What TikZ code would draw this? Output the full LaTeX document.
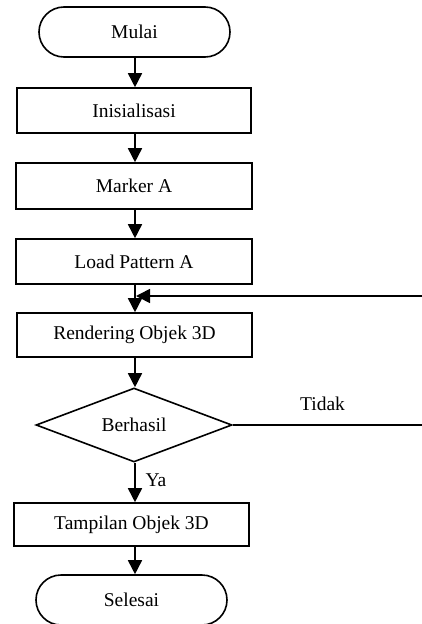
\documentclass[tikz,border=0pt]{standalone}
\usepackage{fontspec}
\setmainfont{Liberation Serif}
\usetikzlibrary{arrows.meta,shapes.geometric}
\begin{document}
\begin{tikzpicture}[x=1pt,y=-1pt,
  line width=1.6pt,
  every node/.style={font=\fontsize{19.5}{23}\selectfont},
  procbox/.style={draw, rectangle, inner sep=0pt, minimum height=45pt},
  termbox/.style={draw, rectangle, rounded corners=25pt, minimum width=191pt, minimum height=50pt, inner sep=0pt},
  decbox/.style={draw, diamond, aspect=2.65, minimum width=196pt, minimum height=74pt, inner sep=0pt},
  arr/.style={-{Triangle[length=14pt,width=14pt]}},
  lbl/.style={inner sep=0pt}
]
\useasboundingbox (0,0) rectangle (422,624);
\coordinate (axis) at (135,0);
\node[termbox] (mulai) at (134.5,32) {Mulai};
\node[procbox, minimum width=234pt] (init) at (134,110.5) {Inisialisasi};
\node[procbox, minimum width=236pt, minimum height=46pt] (marker) at (134,186) {Marker A};
\node[procbox, minimum width=236pt] (load) at (134,261.5) {Load Pattern A};
\node[procbox, minimum width=235pt, minimum height=44pt] (render) at (134.5,335) {Rendering Objek 3D};
\node[decbox] (dec) at (134,425) {Berhasil};
\node[procbox, minimum width=235pt, minimum height=43pt] (tamp) at (131.5,524.5) {Tampilan Objek 3D};
\node[termbox] (selesai) at (131.5,600) {Selesai};
\node[lbl] (ya) at (156,480) {Ya};
\node[lbl] (tidak) at (322.5,404) {Tidak};
\coordinate (fbend) at (422,296);
\coordinate (noend) at (422,425);
\draw[arr] (mulai.south -| axis) -- (init.north -| axis);
\draw[arr] (init.south -| axis) -- (marker.north -| axis);
\draw[arr] (marker.south -| axis) -- (load.north -| axis);
\draw[arr] (load.south -| axis) -- (render.north -| axis);
\draw[arr] (render.south -| axis) -- (dec.north -| axis);
\draw[arr] (dec.south -| axis) -- (tamp.north -| axis);
\draw[arr] (tamp.south -| axis) -- (selesai.north -| axis);
\draw (dec.east) -- (noend);
\draw[arr, shorten >=1pt] (fbend) -- (fbend -| axis);
\end{tikzpicture}
\end{document}
